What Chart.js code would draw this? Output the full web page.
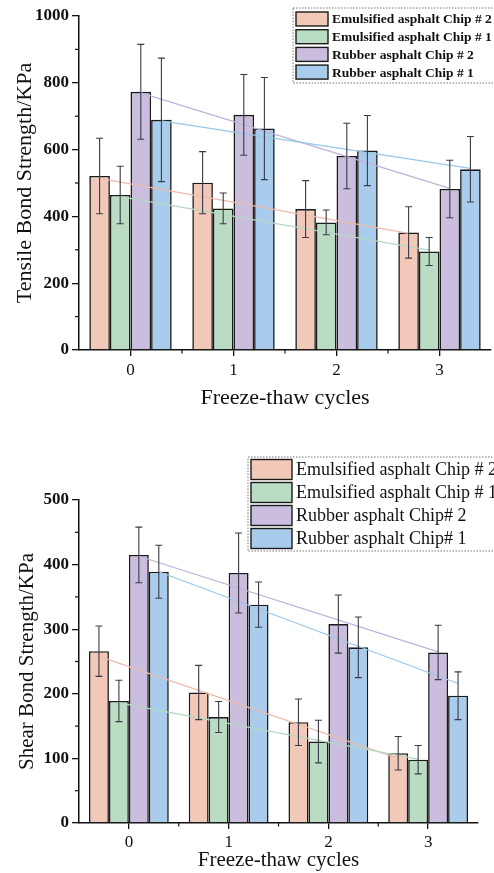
<!DOCTYPE html>
<html>
<head>
<meta charset="utf-8">
<script src="https://cdn.jsdelivr.net/npm/chart.js@4.4.0/dist/chart.umd.min.js"></script>
<style>
  html, body { margin: 0; padding: 0; background: #ffffff; }
  #wrap1 { position: absolute; left: 0; top: 0; width: 494px; height: 425px; }
  #wrap2 { position: absolute; left: 0; top: 430px; width: 494px; height: 443px; }
</style>
</head>
<body>
<div id="wrap1"><canvas id="c1"></canvas></div>
<div id="wrap2"><canvas id="c2"></canvas></div>
<script>
// ---------- data ----------
const categories = ['0', '1', '2', '3'];
const seriesNames = ['Emulsified asphalt Chip # 2', 'Emulsified asphalt Chip # 1', 'Rubber asphalt Chip # 2', 'Rubber asphalt Chip # 1'];
const seriesNamesShear = ['Emulsified asphalt Chip # 2', 'Emulsified asphalt Chip # 1', 'Rubber asphalt Chip# 2', 'Rubber asphalt Chip# 1'];

// Tensile bond strength (KPa)
const tensileEmulsified2 = [521, 501, 422, 352];
const tensileEmulsified1 = [464, 424, 382, 295];
const tensileRubber2 = [773, 704, 581, 482];
const tensileRubber1 = [689, 663, 597, 541];
const tensileErrEmulsified2 = [113, 93, 85, 77];
const tensileErrEmulsified1 = [86, 46, 37, 42];
const tensileErrRubber2 = [142, 121, 98, 86];
const tensileErrRubber1 = [185, 153, 105, 98];
const tensileTrendStart = [514, 459, 770, 686];
const tensileTrendEnd = [349, 299, 484, 544];

// Shear bond strength (KPa)
const shearEmulsified2 = [266, 202, 156, 108];
const shearEmulsified1 = [189, 164, 126, 98];
const shearRubber2 = [415, 387, 308, 264];
const shearRubber1 = [389, 338, 272, 197];
const shearErrEmulsified2 = [39, 42, 36, 26];
const shearErrEmulsified1 = [32, 24, 33, 22];
const shearErrRubber2 = [43, 62, 45, 42];
const shearErrRubber1 = [41, 35, 47, 37];
const shearTrendStart = [258, 186, 413, 389];
const shearTrendEnd = [100, 99, 265, 216];

const fillColors = ['#f2c9b8', '#b9dcc3', '#cabddd', '#a9ccec'];
const trendColors = ['#edbcae', '#b3d9c1', '#bfb2d8', '#99c6e6'];
const SERIF = "'Liberation Serif', 'Times New Roman', serif";

// ---------- plugins ----------
const errorTrendPlugin = {
  id: 'errorTrend',
  afterDatasetsDraw(chart) {
    const o = chart.options.plugins.errorTrend;
    const ctx = chart.ctx;
    const y = chart.scales.y;
    ctx.save();
    // trend lines
    chart.data.datasets.forEach((ds, i) => {
      const meta = chart.getDatasetMeta(i);
      const n = meta.data.length;
      ctx.beginPath();
      ctx.strokeStyle = trendColors[i];
      ctx.lineWidth = 1.2;
      ctx.moveTo(meta.data[0].x, y.getPixelForValue(o.trendStart[i]));
      ctx.lineTo(meta.data[n - 1].x, y.getPixelForValue(o.trendEnd[i]));
      ctx.stroke();
    });
    // error bars
    ctx.strokeStyle = '#3a3a48';
    ctx.lineWidth = 1.1;
    chart.data.datasets.forEach((ds, i) => {
      const meta = chart.getDatasetMeta(i);
      meta.data.forEach((bar, j) => {
        const v = ds.data[j], e = o.errors[i][j];
        const yt = y.getPixelForValue(v + e), yb = y.getPixelForValue(v - e);
        const x = bar.x, cw = 3.5;
        ctx.beginPath();
        ctx.moveTo(x, yt); ctx.lineTo(x, yb);
        ctx.moveTo(x - cw, yt); ctx.lineTo(x + cw, yt);
        ctx.moveTo(x - cw, yb); ctx.lineTo(x + cw, yb);
        ctx.stroke();
      });
    });
    ctx.restore();
  }
};

const minorTickPlugin = {
  id: 'minorTicks',
  afterDraw(chart) {
    const o = chart.options.plugins.minorTicks;
    const ctx = chart.ctx;
    const xs = chart.scales.x, ys = chart.scales.y;
    const area = chart.chartArea;
    ctx.save();
    ctx.strokeStyle = '#111';
    ctx.lineWidth = 1.2;
    for (let v = o.yMinorStep; v < ys.max; v += o.yMinorStep * 2) {
      const py = ys.getPixelForValue(v);
      ctx.beginPath();
      ctx.moveTo(area.left, py); ctx.lineTo(area.left - 4, py);
      ctx.stroke();
    }
    const n = chart.data.labels.length;
    for (let k = 1; k < n; k++) {
      const px = (xs.getPixelForTick(k - 1) + xs.getPixelForTick(k)) / 2;
      ctx.beginPath();
      ctx.moveTo(px, area.bottom); ctx.lineTo(px, area.bottom + 3.5);
      ctx.stroke();
    }
    ctx.restore();
  }
};

const boxLegendPlugin = {
  id: 'boxLegend',
  afterDraw(chart) {
    const o = chart.options.plugins.boxLegend;
    const ctx = chart.ctx;
    ctx.save();
    ctx.setLineDash([1.5, 1.5]);
    ctx.strokeStyle = '#777';
    ctx.lineWidth = 1;
    ctx.strokeRect(o.x, o.y, o.w, o.h);
    ctx.setLineDash([]);
    ctx.font = o.font;
    ctx.textBaseline = 'middle';
    ctx.textAlign = 'left';
    o.labels.forEach((lab, i) => {
      const cy = o.firstRow + i * o.rowH;
      ctx.fillStyle = fillColors[i];
      ctx.fillRect(o.swX, cy - o.swH / 2, o.swW, o.swH);
      ctx.strokeStyle = '#1a1a1a';
      ctx.lineWidth = 1.4;
      ctx.strokeRect(o.swX, cy - o.swH / 2, o.swW, o.swH);
      ctx.fillStyle = '#111';
      ctx.fillText(lab, o.textX, cy + 1);
    });
    ctx.restore();
  }
};

function makeDatasets(values) {
  return values.map((vals, i) => ({
    label: seriesNames[i],
    data: vals,
    backgroundColor: fillColors[i],
    borderColor: '#1a1a1a',
    borderWidth: 1.6,
    borderSkipped: 'bottom',
    barPercentage: 1.0,
    categoryPercentage: 0.8
  }));
}

function makeOptions(cfg) {
  return {
    responsive: true,
    maintainAspectRatio: false,
    animation: false,
    layout: { padding: cfg.padding },
    plugins: {
      legend: { display: false },
      tooltip: { enabled: false },
      errorTrend: { errors: cfg.errors, trendStart: cfg.trendStart, trendEnd: cfg.trendEnd },
      minorTicks: { yMinorStep: cfg.yStep / 2 },
      boxLegend: cfg.legend
    },
    scales: {
      x: {
        afterFit: s => { s.height = cfg.xHeight; },
        grid: { display: true, drawOnChartArea: false, drawTicks: true, tickLength: 6, color: '#111', lineWidth: 1.3, offset: false },
        border: { display: true, color: '#111', width: 1.5 },
        ticks: { color: '#111', font: { family: SERIF, size: 17 }, padding: cfg.xTickPad, maxRotation: 0 },
        title: { display: true, text: 'Freeze-thaw cycles', color: '#111', font: { family: SERIF, size: cfg.titleSize }, padding: { top: 0, bottom: cfg.xTitlePad } }
      },
      y: {
        min: 0, max: cfg.yMax,
        afterFit: s => { s.width = 79; },
        grid: { display: true, drawOnChartArea: false, drawTicks: true, tickLength: 7, color: '#111', lineWidth: 1.3 },
        border: { display: true, color: '#111', width: 1.5 },
        ticks: { stepSize: cfg.yStep, color: '#111', font: { family: SERIF, size: 17, weight: 'bold' }, padding: 3,
                 callback: v => String(v) },
        title: { display: true, text: cfg.yTitle, color: '#111', font: { family: SERIF, size: cfg.titleSize }, padding: { top: cfg.yTitlePad, bottom: 0 } }
      }
    }
  };
}

Chart.register(errorTrendPlugin, minorTickPlugin, boxLegendPlugin);

new Chart(document.getElementById('c1'), {
  type: 'bar',
  data: {
    labels: categories,
    datasets: makeDatasets([tensileEmulsified2, tensileEmulsified1, tensileRubber2, tensileRubber1])
  },
  options: makeOptions({
    padding: { top: 16, right: 3, left: 0, bottom: 0 },
    xHeight: 75, xTickPad: 4, xTitlePad: 14, titleSize: 22,
    yMax: 1000, yStep: 200, yTitle: 'Tensile Bond Strength/KPa', yTitlePad: 12,
    errors: [tensileErrEmulsified2, tensileErrEmulsified1, tensileErrRubber2, tensileErrRubber1],
    trendStart: tensileTrendStart, trendEnd: tensileTrendEnd,
    legend: { labels: seriesNames, x: 293, y: 8, w: 220, h: 75, firstRow: 19, rowH: 17.7,
              swX: 296, swW: 32, swH: 14, textX: 332, font: 'bold 13.5px ' + SERIF }
  })
});

new Chart(document.getElementById('c2'), {
  type: 'bar',
  data: {
    labels: categories,
    datasets: makeDatasets([shearEmulsified2, shearEmulsified1, shearRubber2, shearRubber1])
  },
  options: makeOptions({
    padding: { top: 70, right: 16, left: 0, bottom: 0 },
    xHeight: 50, xTickPad: 3, xTitlePad: 0, titleSize: 21,
    yMax: 500, yStep: 100, yTitle: 'Shear Bond Strength/KPa', yTitlePad: 15,
    errors: [shearErrEmulsified2, shearErrEmulsified1, shearErrRubber2, shearErrRubber1],
    trendStart: shearTrendStart, trendEnd: shearTrendEnd,
    legend: { labels: seriesNamesShear, x: 248, y: 27, w: 260, h: 94, firstRow: 39.5, rowH: 23,
              swX: 251, swW: 41, swH: 20, textX: 296, font: '18px ' + SERIF }
  })
});
</script>
</body>
</html>
